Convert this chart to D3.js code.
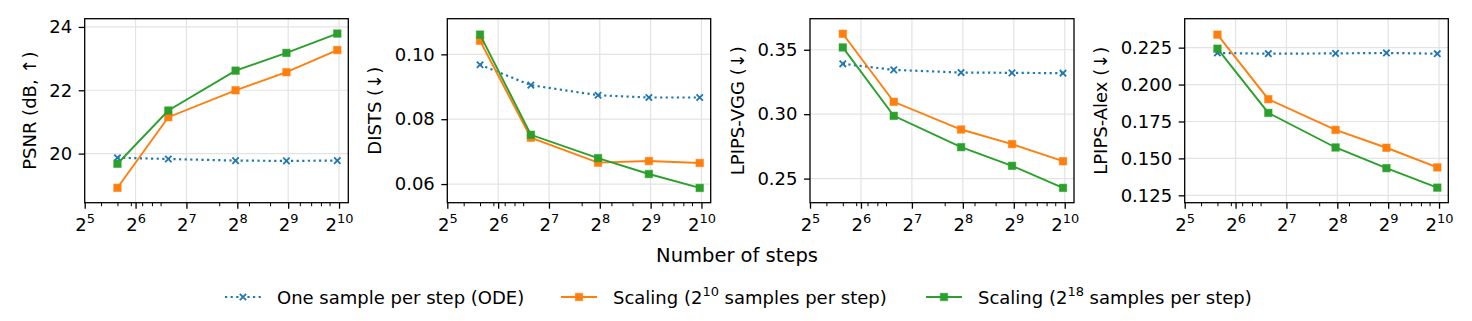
<!DOCTYPE html>
<html><head><meta charset="utf-8">
<script src="https://cdn.jsdelivr.net/npm/d3@7"></script>
<style>
body{margin:0;background:#fff}
svg{display:block}
text{font-family:"DejaVu Sans",sans-serif;fill:#000}
</style>
</head><body>
<svg id="chart" width="1472" height="321"></svg>
<script>
// ---------------- data ----------------
const steps = [50, 100, 250, 500, 1000];
const seriesKeys = ["ode", "s10", "s18"];
const seriesLabels = ["One sample per step (ODE)", "Scaling (2|10| samples per step)", "Scaling (2|18| samples per step)"];
const psnrODE = [19.87, 19.83, 19.78, 19.77, 19.78];
const psnrS10 = [18.92, 21.15, 22.00, 22.57, 23.27];
const psnrS18 = [19.68, 21.36, 22.62, 23.18, 23.79];
const distsODE = [0.0968, 0.0905, 0.0874, 0.0867, 0.0867];
const distsS10 = [0.1042, 0.0743, 0.0666, 0.0671, 0.0665];
const distsS18 = [0.1061, 0.0752, 0.0680, 0.0631, 0.0588];
const vggODE = [0.3391, 0.3344, 0.3323, 0.3321, 0.3318];
const vggS10 = [0.3624, 0.3096, 0.2881, 0.2768, 0.2635];
const vggS18 = [0.3518, 0.2987, 0.2744, 0.2599, 0.2428];
const alexODE = [0.2214, 0.2209, 0.2211, 0.2214, 0.2209];
const alexS10 = [0.2338, 0.1901, 0.1693, 0.1572, 0.1439];
const alexS18 = [0.2243, 0.1808, 0.1574, 0.1434, 0.1302];
const yAxisTitles = ["PSNR (dB, \u2191)", "DISTS (\u2193)", "LPIPS-VGG (\u2193)", "LPIPS-Alex (\u2193)"];
const yTicksPsnr = [20, 22, 24];
const yTicksDists = [0.06, 0.08, 0.10];
const yTicksVgg = [0.25, 0.30, 0.35];
const yTicksAlex = [0.125, 0.150, 0.175, 0.200, 0.225];
const yTickLabelsPsnr = ["20", "22", "24"];
const yTickLabelsDists = ["0.06", "0.08", "0.10"];
const yTickLabelsVgg = ["0.25", "0.30", "0.35"];
const yTickLabelsAlex = ["0.125", "0.150", "0.175", "0.200", "0.225"];
const xTickExponents = [5, 6, 7, 8, 9, 10];
const xMinorTicks = [40, 50, 60, 70, 80, 90, 200, 300, 400, 600, 700, 800, 900];
const xLabel = "Number of steps";

// ---------------- layout / style ----------------
const colors = {ode: "#1f77b4", s10: "#ff7f0e", s18: "#2ca02c"};
const FS = 18;
const TOP = 18.7, BOTTOM = 202.7;
const xDomain = [32, Math.pow(2, 10.182)];
const panels = [
  {left: 84.7, right: 348.3, yDomain: [18.45, 24.26], ticks: yTicksPsnr, labels: yTickLabelsPsnr, data: {ode: psnrODE, s10: psnrS10, s18: psnrS18}, title: yAxisTitles[0], titleX: 30},
  {left: 447.3, right: 710.7, yDomain: [0.05425, 0.1110], ticks: yTicksDists, labels: yTickLabelsDists, data: {ode: distsODE, s10: distsS10, s18: distsS18}, title: yAxisTitles[1], titleX: 375},
  {left: 810.0, right: 1074.0, yDomain: [0.2313, 0.3741], ticks: yTicksVgg, labels: yTickLabelsVgg, data: {ode: vggODE, s10: vggS10, s18: vggS18}, title: yAxisTitles[2], titleX: 738},
  {left: 1184.7, right: 1448.3, yDomain: [0.1200, 0.2446], ticks: yTicksAlex, labels: yTickLabelsAlex, data: {ode: alexODE, s10: alexS10, s18: alexS18}, title: yAxisTitles[3], titleX: 1101}
];

const svg = d3.select("#chart");

function drawMarker(g, key, cx, cy) {
  if (key === "ode") {
    const s = 3.2;
    g.append("path")
      .attr("d", `M${cx - s},${cy - s}L${cx + s},${cy + s}M${cx - s},${cy + s}L${cx + s},${cy - s}`)
      .attr("stroke", colors[key]).attr("stroke-width", 1.8).attr("fill", "none");
  } else {
    const s = 7.5;
    g.append("rect")
      .attr("x", cx - s / 2).attr("y", cy - s / 2).attr("width", s).attr("height", s)
      .attr("fill", colors[key]).attr("stroke", colors[key]).attr("stroke-opacity", 0.5).attr("stroke-width", 1);
  }
}

panels.forEach(p => {
  const x = d3.scaleLog().base(2).domain(xDomain).range([p.left, p.right]);
  const y = d3.scaleLinear().domain(p.yDomain).range([BOTTOM, TOP]);
  const g = svg.append("g");
  const majors = xTickExponents.map(e => Math.pow(2, e));

  // grid
  g.append("g").selectAll("line").data(majors.filter(v => v > xDomain[0])).join("line")
    .attr("x1", d => x(d)).attr("x2", d => x(d)).attr("y1", TOP).attr("y2", BOTTOM)
    .attr("stroke", "#e3e3e3").attr("stroke-width", 1.2);
  g.append("g").selectAll("line").data(p.ticks).join("line")
    .attr("x1", p.left).attr("x2", p.right).attr("y1", d => y(d)).attr("y2", d => y(d))
    .attr("stroke", "#e3e3e3").attr("stroke-width", 1.2);

  // x axis minor
  const xMinor = g.append("g").attr("transform", `translate(0,${BOTTOM})`)
    .call(d3.axisBottom(x).tickValues(xMinorTicks).tickSize(3.5).tickFormat(() => ""));
  xMinor.select(".domain").remove();
  xMinor.selectAll("line").attr("stroke", "#000").attr("stroke-width", 1);

  // x axis major
  const xAx = g.append("g").attr("transform", `translate(0,${BOTTOM})`)
    .call(d3.axisBottom(x).tickValues(majors).tickSize(6).tickFormat(() => ""));
  xAx.select(".domain").remove();
  xAx.selectAll("line").attr("stroke", "#000").attr("stroke-width", 1.3);
  xAx.selectAll(".tick text").remove();
  xAx.selectAll(".tick").each(function (d, i) {
    const t = d3.select(this).append("text").attr("y", 28).attr("text-anchor", "middle")
      .attr("font-size", FS).attr("fill", "#000");
    t.append("tspan").text("2");
    t.append("tspan").attr("font-size", FS * 0.72).attr("dy", -7.5).text(xTickExponents[i]);
  });

  // y axis
  const yAx = g.append("g").attr("transform", `translate(${p.left},0)`)
    .call(d3.axisLeft(y).tickValues(p.ticks).tickSize(6).tickPadding(6.5).tickFormat((d, i) => p.labels[i]));
  yAx.select(".domain").remove();
  yAx.selectAll("line").attr("stroke", "#000").attr("stroke-width", 1.3);
  yAx.selectAll("text").attr("font-size", FS).attr("font-family", "DejaVu Sans").attr("fill", "#000");

  // y title
  g.append("text").attr("transform", `translate(${p.titleX},${(TOP + BOTTOM) / 2}) rotate(-90)`)
    .attr("text-anchor", "middle").attr("dy", "0.35em").attr("font-size", FS).text(p.title);

  // series
  seriesKeys.forEach(key => {
    const vals = p.data[key];
    const line = d3.line().x((d, i) => x(steps[i])).y(d => y(d));
    g.append("path").datum(vals).attr("d", line).attr("fill", "none")
      .attr("stroke", colors[key]).attr("stroke-width", key === "ode" ? 2.2 : 1.9)
      .attr("stroke-dasharray", key === "ode" ? "2.2,3.4" : null);
    const mg = g.append("g");
    vals.forEach((v, i) => drawMarker(mg, key, x(steps[i]), y(v)));
  });

  // frame
  g.append("rect").attr("x", p.left).attr("y", TOP).attr("width", p.right - p.left).attr("height", BOTTOM - TOP)
    .attr("fill", "none").attr("stroke", "#000").attr("stroke-width", 1.3);
});

// x label
svg.append("text").attr("x", 737).attr("y", 262).attr("text-anchor", "middle")
  .attr("font-size", 19.5).text(xLabel);

// legend
const legendItems = [
  {key: "ode", x0: 225, text: 277},
  {key: "s10", x0: 561, text: 613},
  {key: "s18", x0: 926, text: 978}
];
const LY = 297;
legendItems.forEach((it, idx) => {
  const g = svg.append("g");
  g.append("line").attr("x1", it.x0).attr("x2", it.x0 + 36).attr("y1", LY).attr("y2", LY)
    .attr("stroke", colors[it.key]).attr("stroke-width", it.key === "ode" ? 2.2 : 1.9)
    .attr("stroke-dasharray", it.key === "ode" ? "2.2,3.4" : null);
  drawMarker(g, it.key, it.x0 + 18, LY);
  const parts = seriesLabels[idx].split("|");
  const t = g.append("text").attr("x", it.text).attr("y", LY + 6.5).attr("font-size", FS);
  t.append("tspan").text(parts[0]);
  if (parts.length > 1) {
    t.append("tspan").attr("font-size", FS * 0.72).attr("dy", -7.5).text(parts[1]);
    t.append("tspan").attr("dy", 7.5).text(parts[2]);
  }
});
</script>
</body></html>
